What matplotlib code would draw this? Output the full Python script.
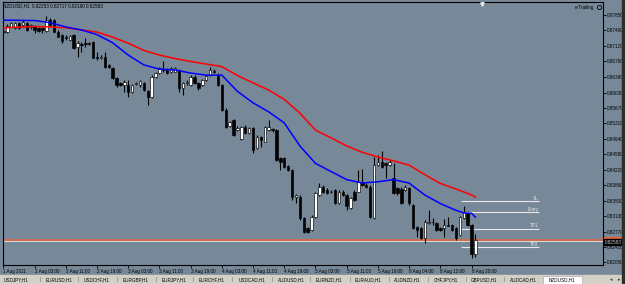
import matplotlib
matplotlib.use('Agg')
import matplotlib.pyplot as plt
from matplotlib.patches import Rectangle
from matplotlib.lines import Line2D
from matplotlib import font_manager as fm

# ---------------- data ----------------
opens = [0.8748,0.8746,0.8758,0.8755,0.8766,0.8762,0.8766,0.8757,0.8759,0.8755,
         0.8755,0.8748,0.8773,0.8773,0.8746,0.8738,0.8733,0.8726,0.8738,0.8711,
         0.8717,0.8719,0.8719,0.8721,0.8687,0.8684,0.8687,0.8668,0.8660,0.8637,
         0.8625,0.8621,0.8621,0.8604,0.8623,0.8621,0.8625,0.8607,0.8593,0.8640,
         0.8648,0.8658,0.8656,0.8652,0.8652,0.8656,0.8613,0.8625,0.8621,0.8640,
         0.8625,0.8621,0.8633,0.8644,0.8654,0.8644,0.8621,0.8562,0.8525,0.8539,
         0.8515,0.8494,0.8523,0.8508,0.8519,0.8472,0.8499,0.8488,0.8515,0.8517,
         0.8515,0.8449,0.8449,0.8431,0.8422,0.8359,0.8359,0.8308,0.8285,0.8281,
         0.8312,0.8363,0.8382,0.8375,0.8371,0.8375,0.8344,0.8371,0.8363,0.8332,
         0.8371,0.8371,0.8394,0.8386,0.8382,0.8308,0.8433,0.8441,0.8437,0.8433,
         0.8402,0.8379,0.8376,0.8375,0.8379,0.8340,0.8287,0.8285,0.8261,0.8297,
         0.8300,0.8297,0.8285,0.8285,0.8293,0.8293,0.8285,0.8269,0.8308,0.8321,
         0.8293,0.82253]
highs = [0.8750,0.8763,0.8769,0.8769,0.8769,0.8773,0.8769,0.8764,0.8762,0.8757,
         0.8757,0.8783,0.8778,0.8776,0.8750,0.8741,0.8738,0.8738,0.8741,0.8724,
         0.8722,0.8731,0.8722,0.8724,0.8699,0.8691,0.8699,0.8670,0.8663,0.8640,
         0.8628,0.8633,0.8633,0.8623,0.8628,0.8633,0.8628,0.8609,0.8644,0.8651,
         0.8663,0.8676,0.8661,0.8663,0.8663,0.8658,0.8628,0.8633,0.8644,0.8644,
         0.8628,0.8635,0.8644,0.8664,0.8658,0.8649,0.8623,0.8567,0.8537,0.8541,
         0.8525,0.8525,0.8527,0.8522,0.8522,0.8504,0.8501,0.8525,0.8539,0.8520,
         0.8518,0.8452,0.8452,0.8433,0.8424,0.8365,0.8363,0.8311,0.8288,0.8316,
         0.8370,0.8390,0.8386,0.8379,0.8375,0.8377,0.8375,0.8375,0.8365,0.8358,
         0.8375,0.8422,0.8424,0.8391,0.8386,0.8453,0.8457,0.8465,0.8440,0.8445,
         0.8438,0.8382,0.8382,0.8386,0.8382,0.8342,0.8290,0.8288,0.8304,0.8328,
         0.8309,0.8300,0.8288,0.8307,0.8312,0.8295,0.8288,0.8314,0.8336,0.8325,
         0.8295,0.82717]
lows = [0.8741,0.8742,0.8757,0.8752,0.8752,0.8757,0.8748,0.8752,0.8743,0.8745,
        0.8743,0.8745,0.8759,0.8745,0.8733,0.8719,0.8726,0.8724,0.8705,0.8687,
        0.8699,0.8710,0.8715,0.8684,0.8680,0.8682,0.8660,0.8661,0.8635,0.8617,
        0.8619,0.8605,0.8593,0.8602,0.8621,0.8617,0.8607,0.8574,0.8590,0.8637,
        0.8647,0.8651,0.8647,0.8649,0.8651,0.8605,0.8597,0.8621,0.8619,0.8623,
        0.8609,0.8619,0.8630,0.8642,0.8648,0.8619,0.8560,0.8520,0.8522,0.8501,
        0.8513,0.8492,0.8506,0.8506,0.8461,0.8471,0.8476,0.8487,0.8513,0.8511,
        0.8443,0.8422,0.8426,0.8419,0.8351,0.8344,0.8304,0.8274,0.8274,0.8279,
        0.8309,0.8361,0.8368,0.8365,0.8368,0.8342,0.8342,0.8361,0.8328,0.8330,
        0.8349,0.8370,0.8384,0.8379,0.8309,0.8307,0.8431,0.8426,0.8402,0.8431,
        0.8365,0.8363,0.8342,0.8372,0.8340,0.8283,0.8265,0.8260,0.8250,0.8295,
        0.8293,0.8279,0.8279,0.8265,0.8290,0.8279,0.8257,0.8267,0.8307,0.8290,
        0.8215,0.82180]
closes = [0.8745,0.8760,0.8766,0.8766,0.8755,0.8769,0.8750,0.8762,0.8750,0.8748,
          0.8750,0.8773,0.8762,0.8746,0.8734,0.8724,0.8731,0.8736,0.8707,0.8720,
          0.8715,0.8717,0.8717,0.8685,0.8684,0.8687,0.8664,0.8663,0.8637,0.8621,
          0.8621,0.8629,0.8605,0.8621,0.8625,0.8630,0.8609,0.8593,0.8640,0.8648,
          0.8660,0.8656,0.8648,0.8660,0.8660,0.8613,0.8625,0.8628,0.8640,0.8625,
          0.8613,0.8633,0.8642,0.8656,0.8651,0.8621,0.8562,0.8523,0.8533,0.8504,
          0.8520,0.8522,0.8508,0.8519,0.8468,0.8500,0.8492,0.8522,0.8522,0.8515,
          0.8445,0.8441,0.8429,0.8422,0.8359,0.8363,0.8308,0.8277,0.8277,0.8312,
          0.8367,0.8382,0.8371,0.8367,0.8370,0.8344,0.8371,0.8363,0.8336,0.8355,
          0.8351,0.8394,0.8386,0.8382,0.8311,0.8433,0.8441,0.8429,0.8433,0.8441,
          0.8367,0.8367,0.8344,0.8382,0.8344,0.8285,0.8281,0.8261,0.8300,0.8300,
          0.8299,0.8281,0.8281,0.8293,0.8291,0.8281,0.8261,0.8311,0.8324,0.8293,
          0.8225,0.82583]

ma_idx = [0, 8, 12, 16, 20, 24, 28, 32, 36, 40, 44, 48, 52, 56, 60, 64, 68, 72,
          76, 80, 84, 88, 92, 96, 100, 104, 108, 112, 116, 118, 120, 121]
ma_fast = [0.8773, 0.8772, 0.8767, 0.8757, 0.8750, 0.8739, 0.8720, 0.8691, 0.8668,
           0.8658, 0.8656, 0.8649, 0.8644, 0.8644, 0.8606, 0.8579, 0.8558, 0.8532,
           0.8478, 0.8437, 0.8418, 0.8399, 0.8391, 0.8394, 0.8399, 0.8391, 0.8363,
           0.8343, 0.8327, 0.8321, 0.8320, 0.8311]
ma_slow = [0.8755, 0.8758, 0.8757, 0.8755, 0.8750, 0.8745, 0.8733, 0.8719, 0.8702,
           0.8691, 0.8683, 0.8676, 0.8670, 0.8664, 0.8643, 0.8626, 0.8609, 0.8587,
           0.8555, 0.8515, 0.8497, 0.8478, 0.8463, 0.8452, 0.8443, 0.8433, 0.8411,
           0.8390, 0.8377, 0.8370, 0.8363, 0.8358]

bid_price = 0.82583
second_line = 0.82545
level_names = ['SL', 'Entry', 'TP1', 'TP2']
level_prices = [0.83481, 0.83230, 0.82838, 0.82402]
level_span = (117.2, 137.2)

x_tick_idx = [0, 8, 16, 24, 32, 40, 48, 56, 64, 72, 80, 88, 96, 104, 112, 120]
x_tick_labels = ['1 Aug 2011', '2 Aug 03:00', '2 Aug 11:00', '2 Aug 19:00',
                 '3 Aug 03:00', '3 Aug 11:00', '3 Aug 19:00', '4 Aug 03:00',
                 '4 Aug 11:00', '4 Aug 19:00', '5 Aug 03:00', '5 Aug 11:00',
                 '5 Aug 19:00', '8 Aug 04:00', '8 Aug 12:00', '8 Aug 20:00']
y_ticks = [0.87850, 0.87490, 0.87120, 0.86760, 0.86390, 0.86030, 0.85670, 0.85310,
           0.84940, 0.84580, 0.84220, 0.83860, 0.83500, 0.83130, 0.82770, 0.82410,
           0.82050]

title = 'NZDUSD,H1  0.82253 0.82717 0.82180 0.82583'
tabs = ['USDJPY,H1', 'EURUSD,H1', 'USDCHF,H1', 'EURGBP,H1', 'EURJPY,H1',
        'EURCHF,H1', 'USDCAD,H1', 'AUDUSD,H1', 'EURNZD,H1', 'EURAUD,H1',
        'AUDNZD,H1', 'CHFJPY,H1', 'GBPUSD,H1', 'AUDCAD,H1', 'NZDUSD,H1']
tab_centers = [16, 59, 97, 136, 174, 212, 252, 291, 329, 368, 407, 446, 484, 523, 562]
tab_seps = [40, 78, 117, 156, 193, 232, 272, 310, 350, 389, 428, 466, 504]

# ---------------- style ----------------
avail = {f.name for f in fm.fontManager.ttflist}
if 'Liberation Sans Narrow' in avail:
    FONT, FS = 'Liberation Sans Narrow', 3.9
else:
    FONT, FS = 'Liberation Sans', 3.3
plt.rcParams['font.family'] = [FONT, 'DejaVu Sans']

BG = '#778899'
W, H = 625, 284
fig = plt.figure(figsize=(W / 100, H / 100), dpi=100)
fig.patch.set_facecolor(BG)
ax = fig.add_axes([3 / W, (H - 265) / H, 600 / W, 263 / H])
ax.set_facecolor(BG)
ax.set_xlim(-0.1, 153.7)
ax.set_ylim(0.81988, 0.88155)

# candles
idx = list(range(len(opens)))
ax.vlines(idx, lows, highs, color='black', linewidth=0.8, zorder=2)
for i, (o, c) in enumerate(zip(opens, closes)):
    up = c >= o
    lo, hi = min(o, c), max(o, c)
    if hi - lo < 0.00004:
        ax.hlines(o, i - 0.35, i + 0.35, color='black', linewidth=0.8, zorder=3)
    else:
        ax.bar(i, hi - lo, bottom=lo, width=0.62,
               color='white' if up else 'black', edgecolor='black',
               linewidth=0.45, zorder=3)

# moving averages
ax.plot(ma_idx, ma_slow, color='#ff0000', linewidth=1.1, zorder=4)
ax.plot(ma_idx, ma_fast, color='#0000ff', linewidth=1.1, zorder=4)

# horizontal lines
ax.axhline(bid_price, color='#e8643c', linewidth=1.1, zorder=1.5)
ax.axhline(second_line, color='#dcdcdc', linewidth=0.7, zorder=1.5)
ax.hlines(level_prices, level_span[0], level_span[1], color='#e8e8e8',
          linewidth=0.8, zorder=2.5)
for name, p in zip(level_names, level_prices):
    ax.text(level_span[1], p + 0.00012, name, ha='right', va='bottom',
            fontsize=FS, color='#e8e8e8', zorder=5)

# axes styling
for s in ax.spines.values():
    s.set_color('black')
    s.set_linewidth(0.8)
ax.yaxis.tick_right()
ax.set_yticks(y_ticks)
ax.set_yticklabels([f'{v:.5f}' for v in y_ticks])
ax.set_xticks(x_tick_idx)
ax.set_xticklabels(x_tick_labels, ha='left')
ax.tick_params(axis='both', direction='out', length=2, width=0.6, pad=1,
               labelsize=FS, colors='black')
ax.tick_params(axis='x', pad=0.8)

# price box on the axis
fig.add_artist(Rectangle((604 / W, 1 - 239 / H), 18 / W, 2.5 / H,
                         transform=fig.transFigure, color='#e8643c', zorder=5))
fig.add_artist(Rectangle((604 / W, 1 - 245 / H), 18 / W, 6 / H,
                         transform=fig.transFigure, color='black', zorder=5))
fig.text(605 / W, 1 - 242 / H, f'{bid_price:.5f}', fontsize=FS, color='#d0d0d0',
         va='center', ha='left', zorder=6)

# title and indicator label
fig.text(3 / W, 1 - 5.5 / H, title, fontsize=FS, color='black', va='center', ha='left')
fig.text(594 / W, 1 - 7 / H, 'e-Trailing', fontsize=FS, color='black',
         va='center', ha='right')
fig.add_artist(Line2D([598.5 / W], [1 - 7 / H], marker='o', markersize=3,
                      markerfacecolor='none', markeredgecolor='black',
                      markeredgewidth=0.6, transform=fig.transFigure))
fig.add_artist(Line2D([482 / W], [1 - 4 / H], marker='v', markersize=2.5,
                      markerfacecolor='#e8e8e8', markeredgecolor='#e8e8e8',
                      transform=fig.transFigure))

# tab bar
fig.add_artist(Rectangle((0, 0), 1, 9 / H, transform=fig.transFigure,
                         color='#d4d0c8', zorder=1))
fig.add_artist(Rectangle((543 / W, 0), 39 / W, 8.5 / H, transform=fig.transFigure,
                         facecolor='white', edgecolor='#a0a0a0', linewidth=0.4,
                         zorder=2))
for name, cx in zip(tabs, tab_centers):
    fig.text(cx / W, 4.3 / H, name, fontsize=FS, color='black',
             ha='center', va='center', zorder=3)
for sx in tab_seps:
    fig.text(sx / W, 4.3 / H, '|', fontsize=FS, color='#606060',
             ha='center', va='center', zorder=3)
fig.text(611 / W, 4.3 / H, '◂', fontsize=FS, color='#303030', ha='center',
         va='center', family=['DejaVu Sans'], zorder=3)
fig.text(619 / W, 4.3 / H, '▸', fontsize=FS, color='#303030', ha='center',
         va='center', family=['DejaVu Sans'], zorder=3)

# dark right edge
fig.add_artist(Rectangle((622 / W, 0), 3 / W, 1, transform=fig.transFigure,
                         color='#2e2e2e', zorder=10))

fig.savefig('out.png', dpi=100, facecolor=fig.get_facecolor())
